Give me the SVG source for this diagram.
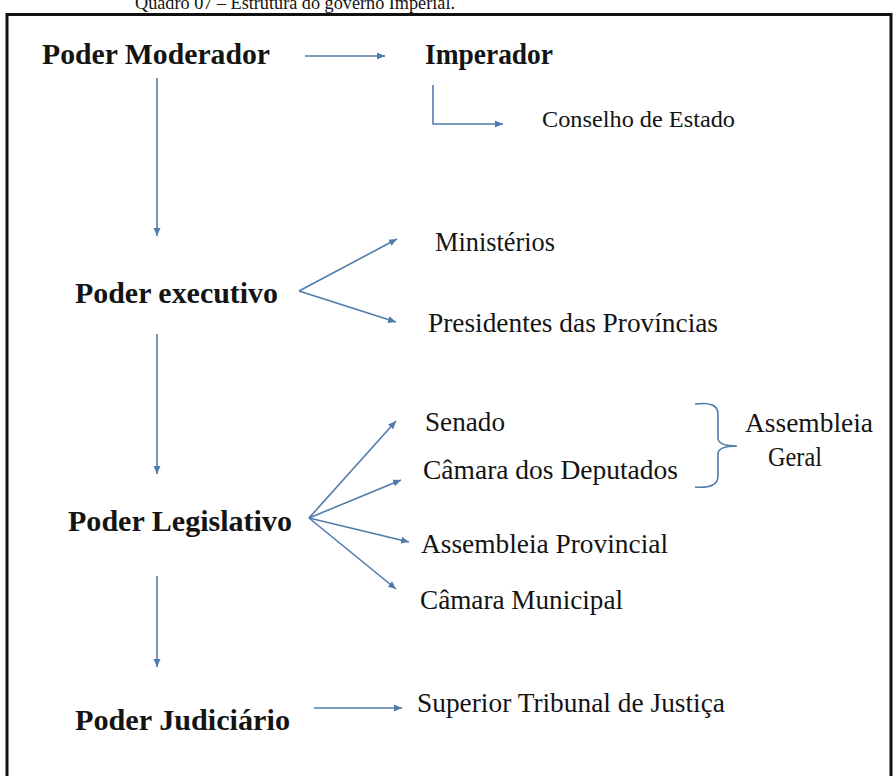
<svg xmlns="http://www.w3.org/2000/svg" width="896" height="776" viewBox="0 0 896 776" font-family="'Liberation Serif', 'Times New Roman', Times, serif">
<style>
text { font-family: 'Liberation Serif', 'Times New Roman', Times, serif; fill: #141414; }
.b { font-weight: bold; font-size: 30px; }
.r { font-size: 27px; }
.c { fill: none; stroke: #4f7bab; stroke-width: 1.6; }
</style>
<defs>
<marker id="ah" markerUnits="userSpaceOnUse" markerWidth="10" markerHeight="8" refX="8" refY="4" orient="auto">
<path d="M0,0.5 L8,4 L0,7.5 Z" fill="#4f7bab"/>
</marker>
</defs>
<rect x="0" y="0" width="896" height="776" fill="#ffffff"/>
<text x="135" y="9" font-size="19" textLength="320" lengthAdjust="spacingAndGlyphs">Quadro 07 – Estrutura do governo Imperial.</text>
<rect x="7" y="14.5" width="884" height="800" fill="none" stroke="#111" stroke-width="3"/>

<g id="connectors">
<line class="c" x1="305" y1="56" x2="385" y2="56" marker-end="url(#ah)"/>
<polyline class="c" points="433,85 433,124 503,124" marker-end="url(#ah)"/>
<line class="c" x1="157" y1="78" x2="157" y2="236" marker-end="url(#ah)"/>
<line class="c" x1="299" y1="291" x2="397" y2="239" marker-end="url(#ah)"/>
<line class="c" x1="299" y1="291" x2="396" y2="322" marker-end="url(#ah)"/>
<line class="c" x1="157" y1="334" x2="157" y2="474" marker-end="url(#ah)"/>
<line class="c" x1="309" y1="518" x2="396" y2="421" marker-end="url(#ah)"/>
<line class="c" x1="309" y1="518" x2="401" y2="480" marker-end="url(#ah)"/>
<line class="c" x1="309" y1="518" x2="409" y2="542" marker-end="url(#ah)"/>
<line class="c" x1="309" y1="518" x2="396" y2="589" marker-end="url(#ah)"/>
<line class="c" x1="157" y1="576" x2="157" y2="667" marker-end="url(#ah)"/>
<line class="c" x1="314" y1="708" x2="402" y2="708" marker-end="url(#ah)"/>
</g>

<g id="brace">
<path class="c" d="M695,404 Q718,401 718,414 L718,438 Q718,446 737,446 Q718,446 718,454 L718,476 Q718,489 695,487"/>
</g>

<g id="poder-moderador"><text class="b" x="42" y="64" textLength="228" lengthAdjust="spacingAndGlyphs">Poder Moderador</text></g>
<g id="imperador"><text class="b" x="425" y="64" font-size="29" textLength="128" lengthAdjust="spacingAndGlyphs">Imperador</text></g>
<g id="conselho"><text x="542" y="127" font-size="24" textLength="193" lengthAdjust="spacingAndGlyphs">Conselho de Estado</text></g>
<g id="poder-executivo"><text class="b" x="75" y="303" textLength="203" lengthAdjust="spacingAndGlyphs">Poder executivo</text></g>
<g id="ministerios"><text class="r" x="435" y="251" textLength="120" lengthAdjust="spacingAndGlyphs">Ministérios</text></g>
<g id="presidentes"><text class="r" x="428" y="332" textLength="290" lengthAdjust="spacingAndGlyphs">Presidentes das Províncias</text></g>
<g id="poder-legislativo"><text class="b" x="68" y="531" textLength="224" lengthAdjust="spacingAndGlyphs">Poder Legislativo</text></g>
<g id="senado"><text class="r" x="425" y="431" textLength="80" lengthAdjust="spacingAndGlyphs">Senado</text></g>
<g id="camara-deputados"><text class="r" x="423" y="479" textLength="255" lengthAdjust="spacingAndGlyphs">Câmara dos Deputados</text></g>
<g id="assembleia-geral"><text class="r" x="745" y="432" textLength="128" lengthAdjust="spacingAndGlyphs">Assembleia</text><text class="r" x="768" y="466" textLength="54" lengthAdjust="spacingAndGlyphs">Geral</text></g>
<g id="assembleia-provincial"><text class="r" x="421" y="553" textLength="247" lengthAdjust="spacingAndGlyphs">Assembleia Provincial</text></g>
<g id="camara-municipal"><text class="r" x="420" y="609" textLength="203" lengthAdjust="spacingAndGlyphs">Câmara Municipal</text></g>
<g id="poder-judiciario"><text class="b" x="75" y="730" textLength="215" lengthAdjust="spacingAndGlyphs">Poder Judiciário</text></g>
<g id="superior-tribunal"><text class="r" x="417" y="712" textLength="308" lengthAdjust="spacingAndGlyphs">Superior Tribunal de Justiça</text></g>
</svg>
